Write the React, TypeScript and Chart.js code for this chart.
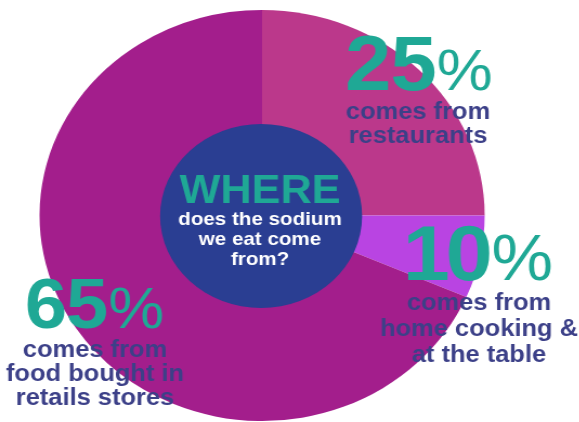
import React, { useEffect, useRef } from "react";
import { Chart, registerables } from "chart.js";

Chart.register(...registerables);

// ---- data ----
const categories = [
  "Restaurants",
  "Home cooking & at the table",
  "Food bought in retail stores",
];
// wedge sizes as drawn in the reference infographic (top-right quarter, thin violet wedge, rest)
const wedgeShares = [25, 6.5, 68.5];
// stated percentages printed on the infographic
const percentLabels = ["25", "10", "65"];
const captions = [
  ["comes from", "restaurants"],
  ["comes from", "home cooking &", "at the table"],
  ["comes from", "food bought in", "retails stores"],
];
const centerTitle = "WHERE";
const centerLines = ["does the sodium", "we eat come", "from?"];

// ---- styling / layout ----
const STRETCH = 1.083;
const CANVAS_W = 535;
const CANVAS_H = 422;
const FONT = '"Liberation Sans", Arial, sans-serif';
const sliceColors = ["#bb388b", "#b944e2", "#a31e8c"];
const INNER = "#2a3e92";
const TEAL = "#1fa895";
const NAVY = "#3c4088";

const labelLayout = [
  { numX: 345, numBase: 90, numSize: 77, numSpacing: -1, pctSize: 58, pctGap: 1, capX: 418, capBase: 119, lineH: 24 },
  { numX: 403, numBase: 280, numSize: 78, numSpacing: -4, pctSize: 64, pctGap: 3, capX: 479, capBase: 310, lineH: 26 },
  { numX: 25, numBase: 328, numSize: 70, numSpacing: -1, pctSize: 58, pctGap: 1, capX: 95, capBase: 357, lineH: 24 },
];

const X = (x: number) => x / STRETCH;

const overlayPlugin = {
  id: "overlay",
  afterDraw(chart: any) {
    const ctx: CanvasRenderingContext2D = chart.ctx;
    const arc = chart.getDatasetMeta(0).data[0] as any;
    const cx = arc.x;
    const cy = arc.y;
    ctx.save();
    ctx.fillStyle = INNER;
    ctx.beginPath();
    ctx.ellipse(cx - X(1), cy + 0.5, X(101), 92, 0, 0, Math.PI * 2);
    ctx.fill();

    ctx.textBaseline = "alphabetic";
    ctx.textAlign = "center";
    ctx.fillStyle = TEAL;
    ctx.font = `bold 40px ${FONT}`;
    ctx.fillText(centerTitle, X(260), 203);
    ctx.fillStyle = "#ffffff";
    ctx.font = `bold 19px ${FONT}`;
    centerLines.forEach((line, j) => ctx.fillText(line, X(260), 225 + j * 20));

    labelLayout.forEach((L, i) => {
      ctx.textAlign = "left";
      ctx.fillStyle = TEAL;
      ctx.font = `bold ${L.numSize}px ${FONT}`;
      (ctx as any).letterSpacing = `${L.numSpacing}px`;
      ctx.fillText(percentLabels[i], X(L.numX), L.numBase);
      const w = ctx.measureText(percentLabels[i]).width;
      (ctx as any).letterSpacing = "0px";
      ctx.font = `${L.pctSize}px ${FONT}`;
      ctx.fillText("%", X(L.numX) + w + L.pctGap, L.numBase);

      ctx.textAlign = "center";
      ctx.fillStyle = NAVY;
      ctx.font = `bold 23.5px ${FONT}`;
      captions[i].forEach((line, j) => ctx.fillText(line, X(L.capX), L.capBase + j * L.lineH));
    });
    ctx.restore();
  },
};

export default function App() {
  const ref = useRef<HTMLCanvasElement>(null);
  useEffect(() => {
    const chart = new Chart(ref.current!, {
      type: "pie",
      data: {
        labels: categories,
        datasets: [
          {
            data: wedgeShares,
            backgroundColor: sliceColors,
            borderWidth: 0,
            hoverOffset: 0,
          },
        ],
      },
      options: {
        responsive: true,
        maintainAspectRatio: false,
        animation: false,
        events: [],
        layout: { padding: { left: 36.5, right: 87.5, top: 10, bottom: 1 } },
        plugins: { legend: { display: false }, tooltip: { enabled: false } },
      },
      plugins: [overlayPlugin],
    } as any);
    return () => chart.destroy();
  }, []);
  return (
    <div style={{ position: "absolute", left: 0, top: 0, width: 579, height: 422, overflow: "hidden", background: "#fff" }}>
      <div
        style={{
          position: "relative",
          width: CANVAS_W,
          height: CANVAS_H,
          transform: `scaleX(${STRETCH})`,
          transformOrigin: "0 0",
        }}
      >
        <canvas ref={ref} />
      </div>
    </div>
  );
}
